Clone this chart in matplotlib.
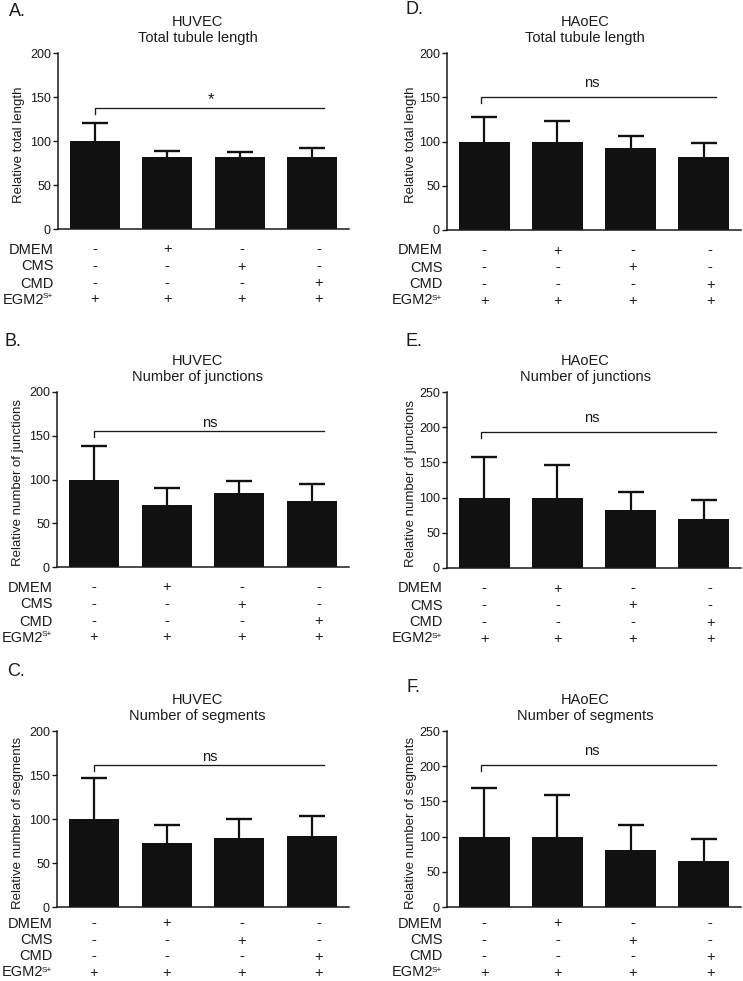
import matplotlib
matplotlib.use("Agg")
import matplotlib.pyplot as plt
import numpy as np

plt.rcParams["font.family"] = ["Liberation Sans", "DejaVu Sans"]

##################################################
# Data
conditions = ["DMEM", "CMS", "CMD", "EGM2"]
dmem = ["-", "+", "-", "-"]
cms = ["-", "-", "+", "-"]
cmd = ["-", "-", "-", "+"]
egm2 = ["+", "+", "+", "+"]

huvec_length = [100, 82, 82, 82]
huvec_length_err = [20, 6.5, 5, 10]
haoec_length = [100, 100, 93, 83]
haoec_length_err = [28, 23, 13, 15]

huvec_junctions = [100, 71, 85, 76]
huvec_junctions_err = [38, 19, 13, 19]
haoec_junctions = [100, 100, 83, 70]
haoec_junctions_err = [57, 46, 25, 27]

huvec_segments = [100, 73, 78, 81]
huvec_segments_err = [47, 20, 22, 22]
haoec_segments = [100, 100, 81, 66]
haoec_segments_err = [69, 59, 36, 30]

bracket_y = [137, 150, 155, 193, 161, 201]
sig_text = ["*", "ns", "ns", "ns", "ns", "ns"]

##################################################
# Layout helpers
W, H = 743, 981
fig = plt.figure(figsize=(W / 100, H / 100), dpi=100)
PT = 0.72  # points per pixel at 100 dpi
ink = "#1a1a1a"

# letter, cell, title, ylabel, means, errs, ymax, axes box (px), letter pos (px), row offsets (px)
panels = [
    ("A.", "HUVEC", "Total tubule length", "Relative total length",
     huvec_length, huvec_length_err, 200, (58, 53, 349, 229), (9, 12), [20, 37, 54, 70]),
    ("D.", "HAoEC", "Total tubule length", "Relative total length",
     haoec_length, haoec_length_err, 200, (447, 53, 741, 230), (406, 10), [20, 37, 54, 70]),
    ("B.", "HUVEC", "Number of junctions", "Relative number of junctions",
     huvec_junctions, huvec_junctions_err, 200, (57, 392, 349, 567), (5, 342), [20, 37, 54, 70]),
    ("E.", "HAoEC", "Number of junctions", "Relative number of junctions",
     haoec_junctions, haoec_junctions_err, 250, (447, 392, 741, 568), (406, 342), [20, 37, 54, 70]),
    ("C.", "HUVEC", "Number of segments", "Relative number of segments",
     huvec_segments, huvec_segments_err, 200, (57, 731, 349, 907), (7, 672), [16, 33, 49, 65]),
    ("F.", "HAoEC", "Number of segments", "Relative number of segments",
     haoec_segments, haoec_segments_err, 250, (447, 731, 741, 907), (407, 687), [16, 33, 49, 65]),
]

x = np.arange(4)
sym_x = [0, 1, 2.03, 3.09]
table = [dmem, cms, cmd, egm2]
bar_color = "#111111"

for i, (letter, cell, title, ylabel, means, errs, ymax, box, lpos, offs) in enumerate(panels):
    l, t, r, b = box
    ax = fig.add_axes([l / W, 1 - b / H, (r - l) / W, (b - t) / H])
    right_col = l > 300

    ax.bar(x, means, width=0.69, color=bar_color, zorder=2)
    eb = ax.errorbar(x, means, yerr=[np.zeros(4), errs], fmt="none", ecolor=bar_color,
                     elinewidth=1.6, capsize=9.2, capthick=1.7, zorder=1)
    # only the upper cap is drawn
    for cap in eb[1]:
        if np.allclose(cap.get_ydata(), means):
            cap.set_visible(False)

    ax.set_xlim(-0.51, 3.51)
    ax.set_ylim(0, ymax)
    ax.set_yticks(np.arange(0, ymax + 1, 50))
    ax.set_xticks([])
    for s in ["top", "right"]:
        ax.spines[s].set_visible(False)
    for s in ["left", "bottom"]:
        ax.spines[s].set_linewidth(1.1)
        ax.spines[s].set_color(ink)
    ax.tick_params(axis="y", direction="out", length=3.6, width=1, pad=1.5,
                   labelsize=9, colors=ink, labelcolor=ink)

    ax.set_ylabel(ylabel, fontsize=9.5, color=ink)
    ax.yaxis.set_label_coords(-0.102 if right_col else -0.112, 0.48)

    # title
    h_px = b - t
    tx = 0.47 if right_col else 0.48
    ax.text(tx, 1 + 31 / h_px, cell, transform=ax.transAxes,
            ha="center", va="center", fontsize=10.5, color=ink)
    ax.text(tx, 1 + 15 / h_px, title, transform=ax.transAxes,
            ha="center", va="center", fontsize=10.5, color=ink)

    # significance bracket
    by = bracket_y[i]
    x0 = -0.05 if right_col else 0.0
    tick = 6 / h_px * ymax
    ax.plot([x0, x0, 3.17], [by - tick, by, by], color=ink, lw=0.95,
            solid_joinstyle="miter", zorder=3)
    gap = 14 if right_col else 8.5
    ax.annotate(sig_text[i], xy=(1.47 if right_col else 1.6, by), xycoords="data",
                xytext=(0, gap * PT), textcoords="offset points",
                ha="center", va="center", fontsize=12 if sig_text[i] == "*" else 10.5,
                color=ink)

    # condition table below the axis
    for row, (name, marks) in enumerate(zip(conditions, table)):
        dy = -(offs[row] + 4.5) * PT
        label_dx = -4.5
        if row == 3:
            # superscript S+ after EGM2
            ax.annotate("S+", xy=(0, 0), xycoords="axes fraction",
                        xytext=(label_dx * PT, dy + 5 * PT), textcoords="offset points",
                        ha="right", va="baseline", fontsize=6, color=ink,
                        annotation_clip=False)
            label_dx -= 9.5
        ax.annotate(name, xy=(0, 0), xycoords="axes fraction",
                    xytext=(label_dx * PT, dy), textcoords="offset points",
                    ha="right", va="baseline", fontsize=10.5, color=ink,
                    annotation_clip=False)
        for xs, m in zip(sym_x, marks):
            ax.annotate(m, xy=(xs, 0), xycoords=("data", "axes fraction"),
                        xytext=(0, dy), textcoords="offset points",
                        ha="center", va="baseline", fontsize=10.5, color=ink,
                        annotation_clip=False)

    # panel letter
    fig.text(lpos[0] / W, 1 - lpos[1] / H, letter, ha="left", va="center",
             fontsize=13, color=ink)

fig.savefig("out.png", dpi=100)
